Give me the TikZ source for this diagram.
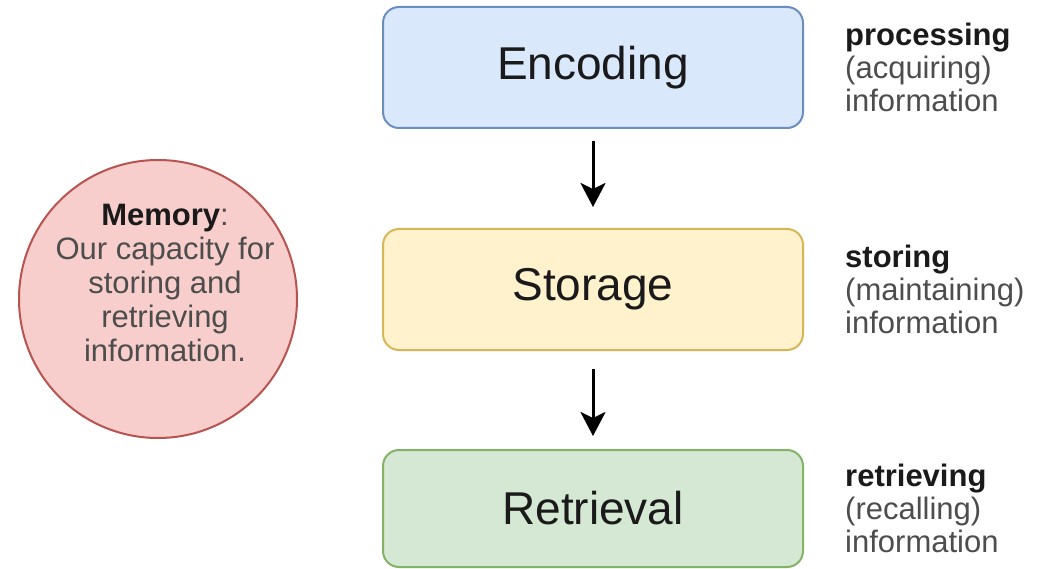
\documentclass[tikz,border=0pt]{standalone}
\usepackage{fontspec}
\setmainfont{Liberation Sans}
\usetikzlibrary{arrows.meta,shapes.geometric}
\definecolor{encfill}{HTML}{DAE8FC}
\definecolor{encdraw}{HTML}{6C8EBF}
\definecolor{stofill}{HTML}{FFF2CC}
\definecolor{stodraw}{HTML}{D6B656}
\definecolor{retfill}{HTML}{D5E8D4}
\definecolor{retdraw}{HTML}{82B366}
\definecolor{memfill}{HTML}{F8CECC}
\definecolor{memdraw}{HTML}{B85450}
\definecolor{txtdark}{HTML}{1A1A1A}
\definecolor{txtgray}{HTML}{4D4D4D}
\begin{document}
\begin{tikzpicture}[x=1pt,y=-1pt,
  stagebox/.style={rounded corners=16pt, line width=2pt, minimum width=420pt,
    minimum height=121pt, font=\fontsize{46}{55}\selectfont, text=txtdark},
  flowarrow/.style={-{Stealth[length=24pt,width=25pt,inset=6pt]}, line width=3pt, black},
  sidelabel/.style={anchor=west, align=left, font=\fontsize{31}{33}\selectfont,
    text=txtgray, inner sep=0pt},
  memcircle/.style={circle, draw=memdraw, fill=memfill, line width=2pt,
    minimum size=278pt, inner sep=0pt},
  memtext/.style={align=center, font=\fontsize{31}{34}\selectfont, text=txtgray, inner sep=0pt}]
\useasboundingbox (0,0) rectangle (1051,569);
\fill[white] (0,0) rectangle (1051,569);

\node[stagebox, fill=encfill, draw=encdraw] (enc) at (593,67.5) {Encoding};
\node[stagebox, fill=stofill, draw=stodraw] (sto) at (593,289.5) {Storage};
\node[stagebox, fill=retfill, draw=retdraw, minimum height=117pt] (ret) at (593,508.5) {Retrieval};

\draw[flowarrow, shorten <=12pt, shorten >=21pt] (enc) -- (sto);
\draw[flowarrow, shorten <=18pt, shorten >=13pt] (sto) -- (ret);

\node[sidelabel] (lab1) at (845,67.5) {\textbf{\color{txtdark}processing}\\(acquiring)\\information};
\node[sidelabel] (lab2) at (845,289.5) {\textbf{\color{txtdark}storing}\\(maintaining)\\information};
\node[sidelabel] (lab3) at (845,508.5) {\textbf{\color{txtdark}retrieving}\\(recalling)\\information};

\node[memcircle] (mem) at (158,299) {};
\node[memtext] (memtxt) at (165,283) {\textbf{\color{txtdark}Memory}:\\Our capacity for\\storing and\\retrieving\\information.};
\end{tikzpicture}
\end{document}
